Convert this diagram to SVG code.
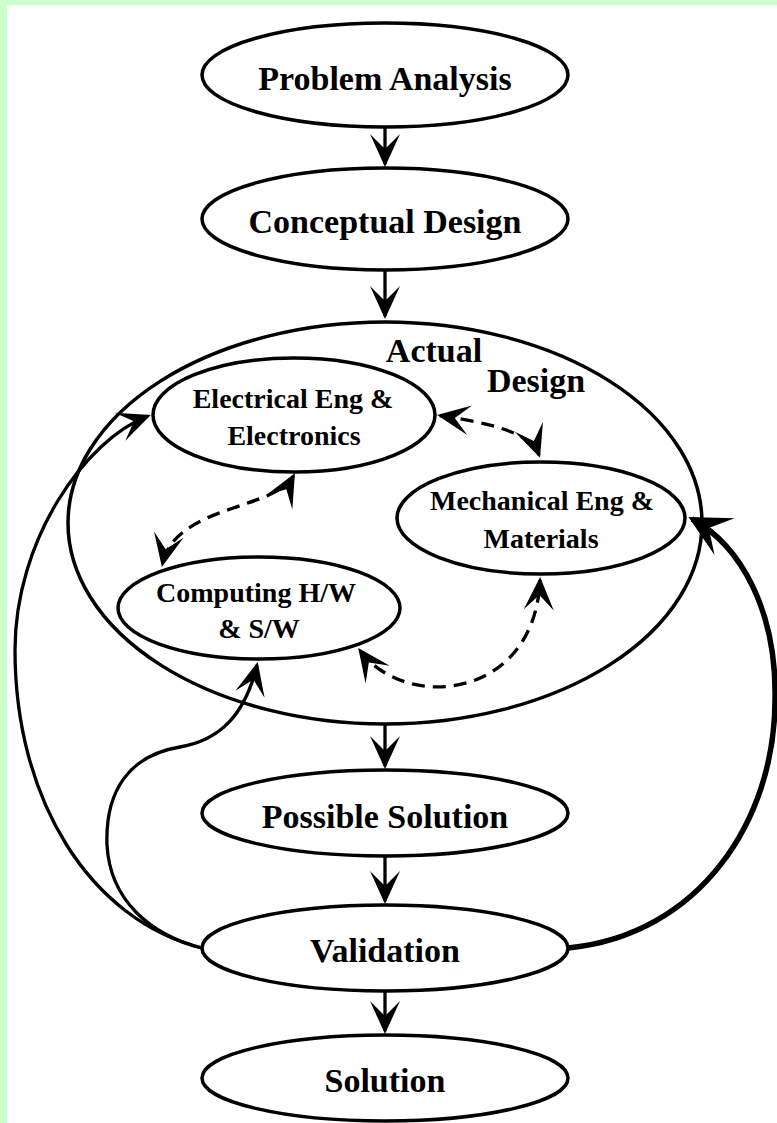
<svg xmlns="http://www.w3.org/2000/svg" width="777" height="1123" viewBox="0 0 777 1123">
<style>
.node{fill:#fff;stroke:#000;stroke-width:3.5}
.big{fill:none;stroke:#000;stroke-width:3.5}
.lbl{font-family:"Liberation Serif","Times New Roman",serif;font-weight:bold;fill:#000;text-anchor:middle}
.l34{font-size:34px}
.l28{font-size:28px}
.c{fill:none;stroke:#000;stroke-width:3.3}
.d{stroke-dasharray:13 8}
.thick{stroke-width:5.5}
</style>
<defs>
<marker id="ah" markerUnits="userSpaceOnUse" orient="auto-start-reverse" markerWidth="80" markerHeight="80" refX="0" refY="0" viewBox="-40 -40 80 80" overflow="visible">
<path d="M3,0 L-30,-15 L-15,0 L-30,15 Z" fill="#000"/>
</marker>
<marker id="ahb" markerUnits="userSpaceOnUse" orient="auto" markerWidth="100" markerHeight="100" refX="0" refY="0" viewBox="-50 -50 100 100" overflow="visible">
<path d="M4,0 L-37,-21 L-19,0 L-37,21 Z" fill="#000"/>
</marker>
</defs>
<rect x="0" y="0" width="777" height="1123" fill="#fff"/>
<rect x="0" y="0" width="777" height="5" fill="#ccffcc"/>
<rect x="0" y="0" width="7" height="1123" fill="#ccffcc"/>

<g id="actual-design">
<ellipse class="big" cx="385" cy="523" rx="317" ry="201"/>
<text class="lbl l34" x="434" y="362">Actual</text>
<text class="lbl l34" x="536" y="392">Design</text>
</g>

<g id="connectors">
<path class="c" d="M385,127 V164" marker-end="url(#ah)"/>
<path class="c" d="M385,270 V316" marker-end="url(#ah)"/>
<path class="c" d="M385,725 V766" marker-end="url(#ah)"/>
<path class="c" d="M385,857 V901" marker-end="url(#ah)"/>
<path class="c" d="M385,992 V1031" marker-end="url(#ah)"/>
<path class="c d" d="M440,415.5 C480,422 530,430 539,455" marker-start="url(#ah)" marker-end="url(#ah)"/>
<path class="c d" d="M293.5,476 C275,510 175,505 162.5,564" marker-start="url(#ah)" marker-end="url(#ah)"/>
<path class="c d" d="M360,650.5 C405,712 535,700 540,580" marker-start="url(#ah)" marker-end="url(#ah)"/>
<path class="c" d="M202,948 C150,935 110,900 107,845 C105,790 130,755 180,747 C220,740 245,715 257,665" marker-end="url(#ah)"/>
<path class="c" d="M202,948 C90,920 15,800 15,650 C15,540 85,440 148,416" marker-end="url(#ah)"/>
<path class="c thick" d="M568,948 C700,935 775,820 775,700 C777,610 740,545 692,519" marker-end="url(#ahb)"/>
</g>

<g id="problem-analysis">
<ellipse class="node" cx="385" cy="75" rx="183" ry="52"/>
<text class="lbl l34" x="385" y="90">Problem Analysis</text>
</g>
<g id="conceptual-design">
<ellipse class="node" cx="385" cy="219" rx="183" ry="51"/>
<text class="lbl l34" x="385" y="233">Conceptual Design</text>
</g>
<g id="electrical">
<ellipse class="node" cx="294" cy="415" rx="141" ry="57"/>
<text class="lbl l28" x="293" y="408">Electrical Eng &amp;</text>
<text class="lbl l28" x="294" y="445">Electronics</text>
</g>
<g id="mechanical">
<ellipse class="node" cx="541" cy="518" rx="144" ry="56"/>
<text class="lbl l28" x="542" y="510">Mechanical Eng &amp;</text>
<text class="lbl l28" x="541" y="548">Materials</text>
</g>
<g id="computing">
<ellipse class="node" cx="259" cy="608" rx="141" ry="51"/>
<text class="lbl l28" x="256" y="602">Computing H/W</text>
<text class="lbl l28" x="259" y="638">&amp; S/W</text>
</g>
<g id="possible-solution">
<ellipse class="node" cx="385" cy="813" rx="183" ry="43"/>
<text class="lbl l34" x="385" y="828">Possible Solution</text>
</g>
<g id="validation">
<ellipse class="node" cx="385" cy="948" rx="183" ry="43"/>
<text class="lbl l34" x="385" y="962">Validation</text>
</g>
<g id="solution">
<ellipse class="node" cx="385" cy="1078" rx="183" ry="43"/>
<text class="lbl l34" x="385" y="1092">Solution</text>
</g>
</svg>
